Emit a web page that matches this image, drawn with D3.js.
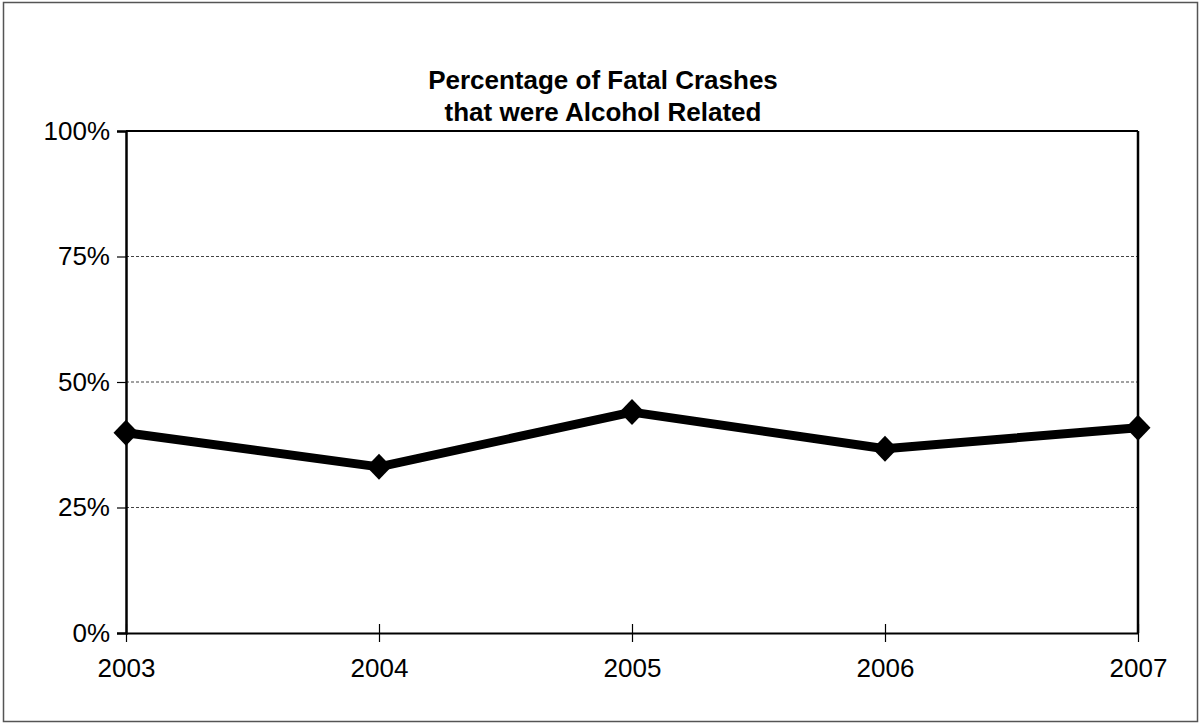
<!DOCTYPE html>
<html>
<head>
<meta charset="utf-8">
<script src="https://cdn.jsdelivr.net/npm/d3@7"></script>
<style>
  body { margin: 0; background: #fff; }
  svg { display: block; font-family: "Liberation Sans", Arial, sans-serif; }
</style>
</head>
<body>
<div id="chart"></div>
<script>
// Data
const years = ["2003", "2004", "2005", "2006", "2007"];
const percentAlcohol = [39.9, 33.1, 44.0, 36.7, 40.9];
const yTicks = [0, 25, 50, 75, 100];
const titleLines = ["Percentage of Fatal Crashes", "that were Alcohol Related"];

const width = 1200, height = 725;
const margin = {top: 131, right: 62, bottom: 92, left: 126};

const svg = d3.select("#chart")
    .append("svg")
    .attr("width", width)
    .attr("height", height);

// outer frame
svg.append("rect")
    .attr("x", 3.5).attr("y", 2.5)
    .attr("width", 1194).attr("height", 719)
    .attr("fill", "none")
    .attr("stroke", "#555")
    .attr("stroke-width", 1.5);

const x = d3.scalePoint()
    .domain(years)
    .range([margin.left, width - margin.right]);

const y = d3.scaleLinear()
    .domain([0, 100])
    .range([height - margin.bottom, margin.top]);

// gridlines (dashed)
svg.append("g")
    .selectAll("line")
    .data(yTicks.filter(d => d > 0 && d < 100))
    .enter()
    .append("line")
    .attr("x1", margin.left).attr("x2", width - margin.right)
    .attr("y1", d => y(d)).attr("y2", d => y(d))
    .attr("stroke", "#444")
    .attr("stroke-width", 1)
    .attr("stroke-dasharray", "3,2");

// plot frame top + right
svg.append("line")
    .attr("x1", margin.left).attr("x2", width - margin.right)
    .attr("y1", y(100)).attr("y2", y(100))
    .attr("stroke", "#000").attr("stroke-width", 2);
svg.append("line")
    .attr("x1", width - margin.right).attr("x2", width - margin.right)
    .attr("y1", y(100)).attr("y2", y(0))
    .attr("stroke", "#000").attr("stroke-width", 2.5);

// y axis
const yAxis = svg.append("g")
    .attr("transform", `translate(${margin.left},0)`)
    .call(d3.axisLeft(y).tickValues(yTicks).tickFormat(d => d + "%").tickSize(9).tickPadding(7));
yAxis.select(".domain").attr("stroke-width", 2.5);
yAxis.selectAll(".tick line").attr("stroke-width", 1.2);
yAxis.selectAll("text")
    .attr("font-size", 26)
    .attr("fill", "#000")
    .attr("font-family", "Liberation Sans, Arial, sans-serif");

// x axis
const xAxis = svg.append("g")
    .attr("transform", `translate(0,${y(0)})`)
    .call(d3.axisBottom(x).tickSize(9).tickSizeOuter(0).tickPadding(17));
xAxis.select(".domain").attr("stroke-width", 2);
xAxis.selectAll(".tick line")
    .attr("y1", -9).attr("y2", 9)
    .attr("stroke-width", 1.2);
xAxis.selectAll("text")
    .attr("font-size", 26)
    .attr("fill", "#000")
    .attr("font-family", "Liberation Sans, Arial, sans-serif");

// series line
const points = years.map((yr, i) => ({year: yr, value: percentAlcohol[i]}));

svg.append("path")
    .datum(points)
    .attr("fill", "none")
    .attr("stroke", "#000")
    .attr("stroke-width", 9)
    .attr("stroke-linejoin", "round")
    .attr("d", d3.line().x(d => x(d.year)).y(d => y(d.value)));

// diamond markers
svg.append("g")
    .selectAll("path")
    .data(points)
    .enter()
    .append("path")
    .attr("transform", d => `translate(${x(d.year)},${y(d.value)})`)
    .attr("d", "M0,-13L12.5,0L0,13L-12.5,0Z")
    .attr("fill", "#000");

// title
svg.append("text")
    .attr("x", 603)
    .attr("y", 89)
    .attr("text-anchor", "middle")
    .attr("font-size", 26)
    .attr("font-weight", "bold")
    .selectAll("tspan")
    .data(titleLines)
    .enter()
    .append("tspan")
    .attr("x", 603)
    .attr("dy", (d, i) => i === 0 ? 0 : 32)
    .text(d => d);
</script>
</body>
</html>
